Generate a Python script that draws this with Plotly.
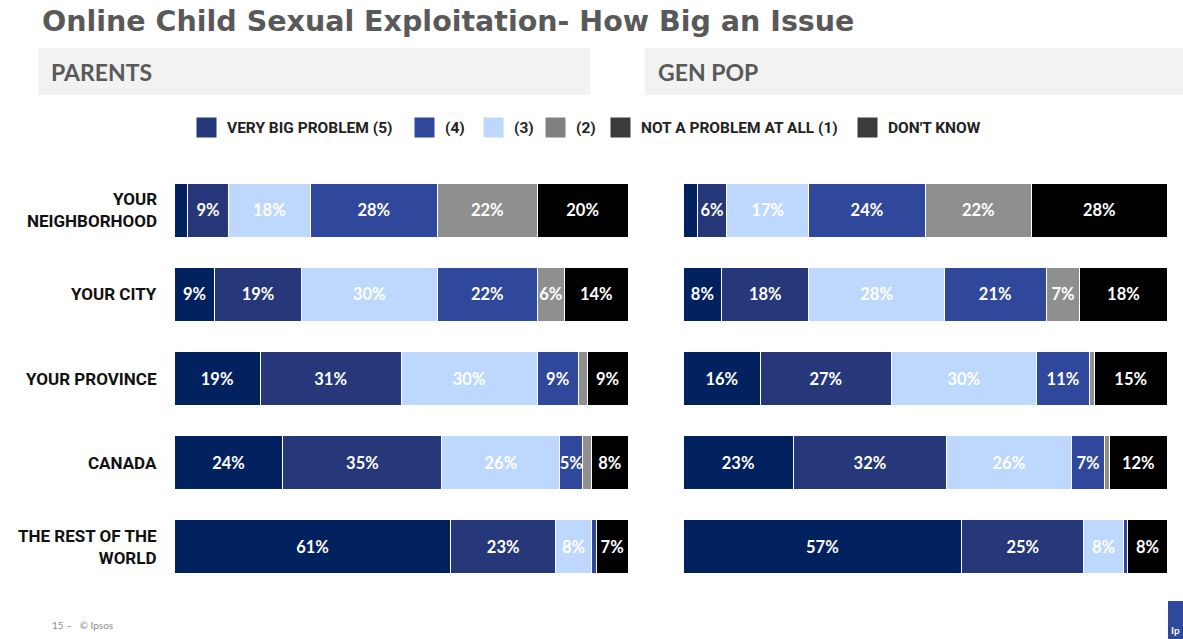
import plotly.graph_objects as go

# Rows, top to bottom
categories = ["YOUR<br>NEIGHBORHOOD", "YOUR CITY", "YOUR PROVINCE", "CANADA", "THE REST OF THE<br>WORLD"]

# Response shares (%) for each segment, in stacking order
parents = {
    "VERY BIG PROBLEM (5)": [3, 9, 19, 24, 61],
    "(4)": [9, 19, 31, 35, 23],
    "(3)": [18, 30, 30, 26, 8],
    "(2)": [28, 22, 9, 5, 1],
    "NOT A PROBLEM AT ALL (1)": [22, 6, 2, 2, 0],
    "DON'T KNOW": [20, 14, 9, 8, 7],
}
gen_pop = {
    "VERY BIG PROBLEM (5)": [3, 8, 16, 23, 57],
    "(4)": [6, 18, 27, 32, 25],
    "(3)": [17, 28, 30, 26, 8],
    "(2)": [24, 21, 11, 7, 1],
    "NOT A PROBLEM AT ALL (1)": [22, 7, 1, 1, 0],
    "DON'T KNOW": [28, 18, 15, 12, 8],
}

segment_names = list(parents.keys())
bar_colors = ["#02215F", "#26377A", "#BED8FD", "#30489C", "#8F8F8F", "#000000"]
legend_colors = ["#26377A", "#30489C", "#BED8FD", "#808080", "#3B3B3B", "#3B3B3B"]

LABEL_MIN = 5  # smaller slices carry no label

fig = go.Figure()


def add_panel(data, xa, ya):
    for name, color in zip(segment_names, bar_colors):
        vals = data[name]
        fig.add_trace(go.Bar(
            y=categories, x=vals, orientation="h", name=name,
            marker=dict(color=color, line=dict(color="white", width=1)),
            text=[f"<b>{v}%</b>" if v >= LABEL_MIN else "" for v in vals],
            textposition="inside", insidetextanchor="middle", textangle=0,
            textfont=dict(color="white", size=16.5, family="Lato"),
            xaxis=xa, yaxis=ya, showlegend=False, hoverinfo="skip",
        ))


add_panel(parents, "x", "y")
add_panel(gen_pop, "x2", "y2")

W, H = 1183, 639


def px(x):
    return x / W


def py(y):
    return 1 - y / H


y_dom = [py(589), py(168)]
axis_common = dict(showgrid=False, zeroline=False, showticklabels=False, showline=False)

fig.update_layout(
    width=W, height=H, margin=dict(l=0, r=0, t=0, b=0),
    paper_bgcolor="white", plot_bgcolor="white",
    barmode="stack", barnorm="percent", bargap=0.36,
    uniformtext=dict(minsize=16.5, mode="show"),
    xaxis=dict(domain=[px(174), px(628)], range=[0, 100], **axis_common),
    xaxis2=dict(domain=[px(683), px(1167)], range=[0, 100], anchor="y2", **axis_common),
    yaxis=dict(domain=y_dom, autorange="reversed", showgrid=False, zeroline=False,
               showticklabels=False, ticks=""),
    yaxis2=dict(domain=y_dom, autorange="reversed", anchor="x2", showgrid=False,
                zeroline=False, showticklabels=False, ticks=""),
    font=dict(family="Lato"),
)

shapes = []
annotations = []

# Row labels, right-aligned against the left panel
for cat in categories:
    annotations.append(dict(
        x=0, xref="x domain", y=cat, yref="y", xanchor="right", yanchor="middle",
        xshift=-15, align="right",
        text="<b>" + cat + "</b>", showarrow=False,
        font=dict(family="Roboto", size=17, color="#111111"),
    ))

# Title
annotations.append(dict(
    x=px(40), y=py(21), xref="paper", yref="paper", xanchor="left", yanchor="middle",
    text="<b>Online Child Sexual Exploitation- How Big an Issue</b>", showarrow=False,
    font=dict(family="DejaVu Sans", size=28.5, color="#595959"),
))

# Panel headers
for x0, x1, label in [(38, 590, "PARENTS"), (645, 1183, "GEN POP")]:
    shapes.append(dict(type="rect", xref="paper", yref="paper",
                       x0=px(x0), x1=px(x1), y0=py(95), y1=py(48),
                       fillcolor="#F2F2F2", line=dict(width=0), layer="below"))
    annotations.append(dict(
        x=px(x0 + 11), y=py(72), xref="paper", yref="paper", xanchor="left", yanchor="middle",
        text=f"<b>{label}</b>", showarrow=False,
        font=dict(family="Lato", size=23, color="#595959"),
    ))

# Legend
legend_x = [196, 414, 483, 545, 610, 857]
for x0, name, color in zip(legend_x, segment_names, legend_colors):
    shapes.append(dict(type="rect", xref="paper", yref="paper",
                       x0=px(x0), x1=px(x0 + 21), y0=py(138), y1=py(117),
                       fillcolor=color, line=dict(color="white", width=1)))
    annotations.append(dict(
        x=px(x0 + 29), y=py(127.5), xref="paper", yref="paper", xanchor="left", yanchor="middle",
        text=f"<b>{name}</b>", showarrow=False,
        font=dict(family="Roboto", size=15.5, color="#222222"),
    ))

# Footer
annotations.append(dict(
    x=px(50), y=py(625), xref="paper", yref="paper", xanchor="left", yanchor="middle",
    text="15 –   © Ipsos", showarrow=False,
    font=dict(family="Lato", size=10, color="#8C8C8C"),
))
shapes.append(dict(type="rect", xref="paper", yref="paper",
                   x0=px(1168), x1=px(1183), y0=py(639), y1=py(601),
                   fillcolor="#30489C", line=dict(width=0)))
annotations.append(dict(
    x=px(1169), y=py(630), xref="paper", yref="paper", xanchor="left", yanchor="middle",
    text="<b>Ip</b>", showarrow=False,
    font=dict(family="Lato", size=10, color="white"),
))

fig.update_layout(shapes=shapes, annotations=annotations)

fig.write_html("out.html")
